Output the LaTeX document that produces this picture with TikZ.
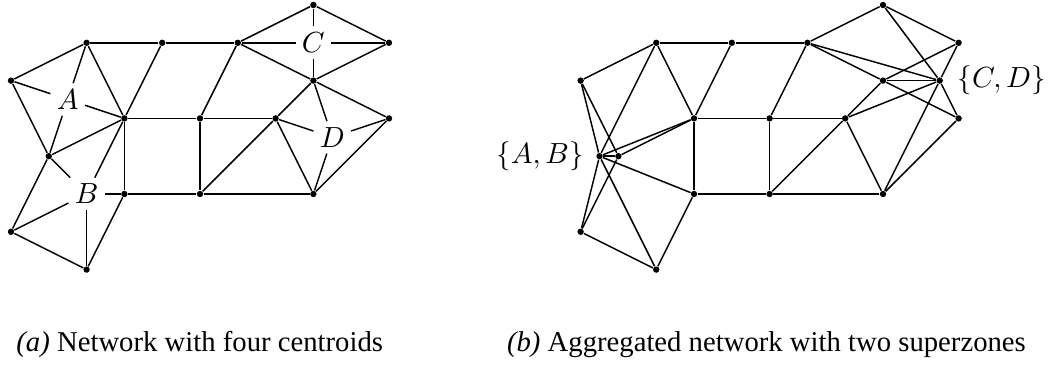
\documentclass[tikz,border=0pt]{standalone}
\usepackage{fontspec}
\newfontfamily\capfont{Liberation Serif}
\begin{document}
\begin{tikzpicture}[x=0.5cm,y=0.5cm,
  dot/.style={circle,fill=black,inner sep=0pt,minimum size=2.4pt},
  edge/.style={line width=0.55pt},
  cent/.style={inner sep=2.2pt,font=\fontsize{10.95}{13}\selectfont},
  szlabel/.style={inner sep=0pt,font=\fontsize{10.95}{13}\selectfont},
  captext/.style={anchor=base west,inner sep=0pt,font=\capfont\fontsize{10.8}{13}\selectfont}]
\useasboundingbox (-0.291,0.132) rectangle (27.62,-9.577);
\foreach \p/\dx in {L/0,R/15.07}{
  \begin{scope}[xshift=\dx*0.5cm]
  \foreach \n/\c/\r in {a/2/1,b/4/1,c/6/1,d/8/0,e/10/1,f/8/2,g/0/2,h/3/3,i/5/3,j/7/3,k/10/3,l/1/4,m/3/5,n/5/5,o/8/5,p/0/6,q/2/7}
    \node[dot] (\p\n) at (\c,-\r) {};
  \foreach \u/\v in {a/b,b/c,a/g,g/l,a/h,b/h,c/i,l/h,h/i,i/j,h/m,i/n,m/n,n/o,n/j,j/f,j/o,f/k,k/o,c/d,d/e,e/f,f/c,l/p,m/q,p/q}
    \draw[edge] (\p\u) -- (\p\v);
  \end{scope}
}
% centroids (a)
\node[cent] (A) at (1.5,-2.5) {$A$};
\node[cent] (B) at (2,-5) {$B$};
\node[cent] (C) at (8,-1) {$C$};
\node[cent] (D) at (8.5,-3.5) {$D$};
\foreach \v in {g,a,h,l} \draw[edge] (A) -- (L\v);
\foreach \v in {l,h,m,p,q} \draw[edge] (B) -- (L\v);
\foreach \v in {d,c,e,f} \draw[edge] (C) -- (L\v);
\foreach \v in {f,j,k,o} \draw[edge] (D) -- (L\v);
% superzones (b)
\node[dot] (SAB) at (15.57,-4) {};
\node[dot] (SCD) at (24.57,-2) {};
\foreach \v in {g,a,h,l,m,p,q} \draw[edge] (SAB) -- (R\v);
\foreach \v in {d,c,e,f,j,k,o} \draw[edge] (SCD) -- (R\v);
\node[szlabel,anchor=east] (lAB) at ([xshift=-5.8pt]SAB.center) {$\{A,B\}$};
\node[szlabel,anchor=west] (lCD) at ([xshift=6.5pt]SCD.center) {$\{C,D\}$};
% captions
\node[captext] (capa) at (0.13,-9.18) {\textit{(a)} Network with four centroids};
\node[captext] (capb) at (13.11,-9.18) {\textit{(b)} Aggregated network with two superzones};
\end{tikzpicture}
\end{document}
